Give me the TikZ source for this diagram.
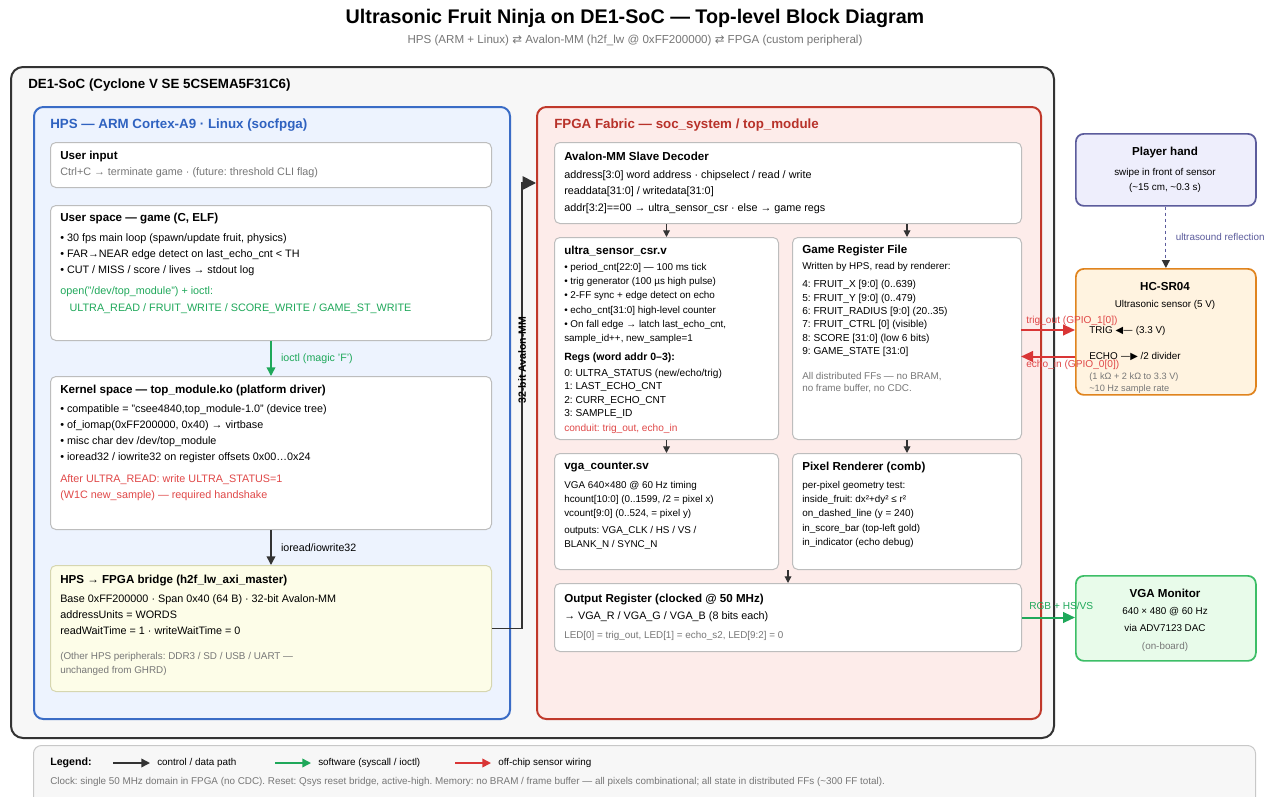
\documentclass[tikz,border=0pt]{standalone}
\usepackage{fontspec}
\setmainfont{Liberation Sans}
\newfontfamily\symfont{DejaVu Sans}
\usepackage{tikz}
\usetikzlibrary{arrows.meta,positioning,backgrounds}

\definecolor{boardline}{HTML}{333333}
\definecolor{boardfill}{HTML}{F7F7F7}
\definecolor{hpsline}{HTML}{3A6CC6}
\definecolor{hpsfill}{HTML}{EDF3FE}
\definecolor{hpstext}{HTML}{2F62C0}
\definecolor{fpgaline}{HTML}{C0392B}
\definecolor{fpgafill}{HTML}{FDECEA}
\definecolor{fpgatext}{HTML}{B8322A}
\definecolor{cardline}{HTML}{BDBDBD}
\definecolor{bridgefill}{HTML}{FDFDE8}
\definecolor{bridgeline}{HTML}{D6D6B0}
\definecolor{swgreen}{HTML}{1FA85A}
\definecolor{wirered}{HTML}{D93636}
\definecolor{notered}{HTML}{E04848}
\definecolor{notegray}{HTML}{777777}
\definecolor{ctrlgray}{HTML}{333333}
\definecolor{handfill}{HTML}{EEEEFC}
\definecolor{handline}{HTML}{5C5C9C}
\definecolor{sonarfill}{HTML}{FFF3E0}
\definecolor{sonarline}{HTML}{E0841E}
\definecolor{monfill}{HTML}{E8FBEA}
\definecolor{monline}{HTML}{3DBE67}
\definecolor{legline}{HTML}{C8C8C8}

\tikzset{
  sz/.style 2 args={anchor=north west, inner sep=0pt, minimum width=#1*0.75pt, minimum height=#2*0.75pt}
}
\tikzset{
  card/.style={draw=cardline, fill=white, rounded corners=4pt, line width=0.75pt}
}
\tikzset{
  grp/.style={rounded corners=7pt, line width=1.5pt}
}
\tikzset{
  offboard/.style={rounded corners=6pt, line width=1.3pt}
}
\tikzset{
  hdr/.style={anchor=west, inner sep=0pt, font=\fontsize{10}{12}\selectfont\bfseries},
  ttl/.style={anchor=west, inner sep=0pt, font=\fontsize{8.7}{10}\selectfont\bfseries},
  line/.style={anchor=west, inner sep=0pt, font=\fontsize{8.1}{10}\selectfont},
  sline/.style={anchor=west, inner sep=0pt, font=\fontsize{7.4}{9}\selectfont},
  body/.style={anchor=north west, inner sep=0pt, align=left, font=\fontsize{8.1}{#1}\selectfont},
  body/.default=12,
  reg/.style={anchor=north west, inner sep=0pt, align=left, font=\fontsize{7.6}{#1}\selectfont},
  reg/.default=10,
  small/.style={anchor=north west, inner sep=0pt, align=left, font=\fontsize{7.4}{#1}\selectfont},
  small/.default=10.6,
  lbl/.style={midway, anchor=west, inner sep=0pt, xshift=7pt, font=\fontsize{8}{10}\selectfont}
}
\tikzset{
  ctrl/.style={draw=ctrlgray, line width=1.1pt, -{Triangle[length=6.5pt, width=6.5pt]}},
  ctrlsm/.style={draw=ctrlgray, line width=0.9pt, -{Triangle[length=5pt, width=5pt]}},
  sw/.style={draw=swgreen, line width=1.1pt, -{Triangle[length=6.5pt, width=6.5pt]}},
  wire/.style={draw=wirered, line width=1.5pt, -{Triangle[length=9pt, width=8pt]}},
  rgbwire/.style={draw=swgreen, line width=1.5pt, -{Triangle[length=9pt, width=8pt]}},
  busline/.style={draw=ctrlgray, line width=1.3pt, -{Triangle[length=10pt, width=10pt]}},
  reflect/.style={draw=handline, line width=0.9pt, dash pattern=on 2.5pt off 2pt, -{Triangle[length=6pt, width=6pt, color=ctrlgray]}}
}

\begin{document}
\frenchspacing
\begin{tikzpicture}[x=0.75pt, y=-0.75pt]
\useasboundingbox (0,0) rectangle (1270,796);
\fill[white] (0,0) rectangle (1270,796);

% heading
\node[font=\fontsize{14.8}{17}\selectfont\bfseries] (title) at (635,18) {Ultrasonic Fruit Ninja on DE1-SoC — Top-level Block Diagram};
\node[font=\fontsize{8.7}{10}\selectfont, text=notegray] (subtitle) at (635,41) {HPS (ARM + Linux) {\symfont ⇄} Avalon-MM (h2f\_lw @ 0xFF200000) {\symfont ⇄} FPGA (custom peripheral)};

% board
\node[grp, draw=boardline, fill=boardfill, rounded corners=9pt, sz={1043}{671}] (board) at (10,66) {};
\node[hdr, text=black] (board-t) at (28,85) {DE1-SoC (Cyclone V SE 5CSEMA5F31C6)};

% HPS side
\node[grp, draw=hpsline, fill=hpsfill, sz={476}{612}] (hps) at (33,106) {};
\node[hdr, text=hpstext] (hps-t) at (50,125) {HPS — ARM Cortex-A9 · Linux (socfpga)};

\node[card, sz={441}{45}] (inp) at (50,142) {};
\node[ttl] (inp-t) at (60,156) {User input};
\node[line, text=notegray] (inp-b) at (60,173) {Ctrl+C → terminate game · (future: threshold CLI flag)};

\node[card, sz={441}{135}] (usr) at (50,205) {};
\node[ttl] (usr-t) at (60,219) {User space — game (C, ELF)};
\node[body] (usr-b) at (60,233.6) {• 30 fps main loop (spawn/update fruit, physics)\\ • FAR→NEAR edge detect on last\_echo\_cnt < TH\\ • CUT / MISS / score / lives → stdout log};
\node[body=12.8, text=swgreen] (usr-io) at (60,286.6) {open("/dev/top\_module") + ioctl:\\ \hspace*{7pt}ULTRA\_READ / FRUIT\_WRITE / SCORE\_WRITE / GAME\_ST\_WRITE};

\node[card, sz={441}{153}] (krn) at (50,376) {};
\node[ttl] (krn-t) at (60,390) {Kernel space — top\_module.ko (platform driver)};
\node[body] (krn-b) at (60,404.6) {• compatible = "csee4840,top\_module-1.0" (device tree)\\ • of\_iomap(0xFF200000, 0x40) → virtbase\\ • misc char dev /dev/top\_module\\ • ioread32 / iowrite32 on register offsets 0x00…0x24};
\node[body, text=notered] (krn-hs) at (60,474.6) {After ULTRA\_READ: write ULTRA\_STATUS=1\\ (W1C new\_sample) — required handshake};

\node[card, draw=bridgeline, fill=bridgefill, sz={441}{126}] (brg) at (50,565) {};
\node[ttl] (brg-t) at (60,581) {HPS → FPGA bridge (h2f\_lw\_axi\_master)};
\node[body] (brg-b) at (60,594.6) {Base 0xFF200000 · Span 0x40 (64 B) · 32-bit Avalon-MM\\ addressUnits = WORDS\\ readWaitTime = 1 · writeWaitTime = 0};
\node[small=10.8, text=notegray] (brg-n) at (60,651.8) {(Other HPS peripherals: DDR3 / SD / USB / UART —\\ unchanged from GHRD)};

% FPGA side
\node[grp, draw=fpgaline, fill=fpgafill, sz={504}{612}] (fpga) at (536,106) {};
\node[hdr, text=fpgatext] (fpga-t) at (554,125) {FPGA Fabric — soc\_system / top\_module};

\node[card, sz={467}{81}] (dec) at (554,142) {};
\node[ttl] (dec-t) at (564,156) {Avalon-MM Slave Decoder};
\node[body] (dec-b) at (564,170.6) {address[3:0] word address · chipselect / read / write\\ readdata[31:0] / writedata[31:0]};
\node[line] (dec-m) at (564,209) {addr[3:2]==00 → ultra\_sensor\_csr · else → game regs};

\node[card, sz={224}{202}] (usc) at (554,237) {};
\node[ttl] (usc-t) at (564,251) {ultra\_sensor\_csr.v};
\node[small] (usc-b) at (564,263.2) {• period\_cnt[22:0] — 100 ms tick\\ • trig generator (100 µs high pulse)\\ • 2-FF sync + edge detect on echo\\ • echo\_cnt[31:0] high-level counter\\ • On fall edge → latch last\_echo\_cnt,\\ sample\_id++, new\_sample=1};
\node[ttl, font=\fontsize{7.9}{9}\selectfont\bfseries] (usc-r) at (564,358) {Regs (word addr 0–3):};
\node[reg] (usc-rb) at (564,369) {0: ULTRA\_STATUS (new/echo/trig)\\ 1: LAST\_ECHO\_CNT\\ 2: CURR\_ECHO\_CNT\\ 3: SAMPLE\_ID};
\node[line, font=\fontsize{7.6}{9}\selectfont, text=notered] (usc-c) at (564,429) {conduit: trig\_out, echo\_in};

\node[card, sz={229}{202}] (grf) at (792,237) {};
\node[ttl] (grf-t) at (802,251) {Game Register File};
\node[sline] (grf-w) at (802,267) {Written by HPS, read by renderer:};
\node[reg] (grf-b) at (802,280.2) {4: FRUIT\_X [9:0] (0..639)\\ 5: FRUIT\_Y [9:0] (0..479)\\ 6: FRUIT\_RADIUS [9:0] (20..35)\\ 7: FRUIT\_CTRL [0] (visible)\\ 8: SCORE [31:0] (low 6 bits)\\ 9: GAME\_STATE [31:0]};
\node[small=9.5, text=notegray] (grf-n) at (802,371.8) {All distributed FFs — no BRAM,\\ no frame buffer, no CDC.};

\node[card, sz={224}{116}] (vga) at (554,453) {};
\node[ttl] (vga-t) at (564,467) {vga\_counter.sv};
\node[small] (vga-b) at (564,481.2) {VGA 640×480 @ 60 Hz timing\\ hcount[10:0] (0..1599, /2 = pixel x)\\ vcount[9:0] (0..524, = pixel y)};
\node[small] (vga-o) at (564,526.2) {outputs: VGA\_CLK / HS / VS /\\ BLANK\_N / SYNC\_N};

\node[card, sz={229}{116}] (pix) at (792,453) {};
\node[ttl] (pix-t) at (802,467) {Pixel Renderer (comb)};
\node[small] (pix-b) at (802,481.2) {per-pixel geometry test:\\ inside\_fruit: dx²+dy² ≤ r²\\ on\_dashed\_line (y = 240)\\ in\_score\_bar (top-left gold)\\ in\_indicator (echo debug)};

\node[card, sz={467}{68}] (out) at (554,583) {};
\node[ttl] (out-t) at (564,600) {Output Register (clocked @ 50 MHz)};
\node[line] (out-b) at (564,617) {→ VGA\_R / VGA\_G / VGA\_B (8 bits each)};
\node[sline, text=notegray] (out-n) at (564,636) {LED[0] = trig\_out, LED[1] = echo\_s2, LED[9:2] = 0};

% off-board parts
\node[offboard, draw=handline, fill=handfill, sz={180}{72}] (hand) at (1075,133) {};
\node[ttl, anchor=center] (hand-t) at (1165,152) {Player hand};
\node[small=11.2, anchor=north, align=center] (hand-b) at (1165,167.8) {swipe in front of sensor\\ (\textasciitilde15 cm, \textasciitilde0.3 s)};

\node[offboard, draw=sonarline, fill=sonarfill, sz={180}{126}] (hc) at (1075,268) {};
\node[ttl, anchor=center] (hc-t) at (1165,287) {HC-SR04};
\node[sline, anchor=center] (hc-s) at (1165,305) {Ultrasonic sensor (5 V)};
\node[sline] (hc-trig) at (1089,330.5) {TRIG {\symfont ◀—} (3.3 V)};
\node[sline] (hc-echo) at (1089,356.5) {ECHO {\symfont —▶} /2 divider};
\node[small=9.2, font=\fontsize{6.9}{9.2}\selectfont, text=notegray] (hc-n) at (1089,372.5) {(1 kΩ + 2 kΩ to 3.3 V)\\ \textasciitilde10 Hz sample rate};

\node[offboard, draw=monline, fill=monfill, sz={180}{85}] (mon) at (1075,575) {};
\node[ttl, anchor=center] (mon-t) at (1165,593) {VGA Monitor};
\node[sline, anchor=center] (mon-a) at (1165,612) {640 × 480 @ 60 Hz};
\node[sline, anchor=center] (mon-b) at (1165,628) {via ADV7123 DAC};
\node[sline, anchor=center, text=notegray] (mon-n) at (1165,647) {(on-board)};

% connectors
\draw[sw] (usr.south) -- (krn.north) node[lbl, text=swgreen] (ioctl-l) {ioctl (magic 'F')};
\draw[ctrl] (krn.south) -- (brg.north) node[lbl] (io-l) {ioread/iowrite32};

\coordinate (bus) at (522,183);
\draw[busline] (brg.east) -| (bus) -- (fpga.west |- dec.west);
\node[rotate=90, font=\fontsize{7.9}{9}\selectfont\bfseries] (bus-l) at (522,360) {32-bit Avalon-MM};

\draw[ctrlsm] (dec.south -| usc.north) -- (usc.north);
\draw[ctrlsm] (dec.south -| grf.north) -- (grf.north);
\draw[ctrlsm] (usc.south) -- (vga.north);
\draw[ctrlsm] (grf.south) -- (pix.north);
\draw[ctrlsm] (out.north |- vga.south) -- (out.north);

\draw[reflect] (hand.south) -- (hc.north) node[lbl, font=\fontsize{7.4}{9}\selectfont, text=handline] (refl-l) {ultrasound reflection};

\coordinate (trigpin) at (1021,330);
\coordinate (echopin) at (1021,356.5);
\draw[wire] (trigpin) -- (hc.west |- trigpin);
\draw[wire] (hc.west |- echopin) -- (echopin);
\node[sline, font=\fontsize{7.6}{9}\selectfont, text=notered] (trig-l) at (1026,321) {trig\_out (GPIO\_1[0])};
\node[sline, font=\fontsize{7.6}{9}\selectfont, text=notered] (echo-l) at (1026,365) {echo\_in (GPIO\_0[0])};

\draw[rgbwire] (out.east) -- (mon.west |- out.east);
\node[sline, font=\fontsize{7.6}{9}\selectfont, text=swgreen] (rgb-l) at (1029,606) {RGB + HS/VS};

% legend
\node[card, draw=legline, fill=boardfill, rounded corners=6pt, sz={1222}{70}] (leg) at (33,745) {};
\node[ttl, font=\fontsize{8}{9}\selectfont\bfseries] (leg-t) at (50,763) {Legend:};
\coordinate (k1) at (113,763); \coordinate (k2) at (150,763);
\coordinate (g1) at (275,763); \coordinate (g2) at (311,763);
\coordinate (r1) at (455,763); \coordinate (r2) at (491,763);
\draw[ctrl] (k1) -- (k2);
\draw[sw] (g1) -- (g2);
\draw[wire, line width=1.1pt, -{Triangle[length=6.5pt, width=6.5pt]}] (r1) -- (r2);
\node[sline] (k-l) at (157,763) {control / data path};
\node[sline] (g-l) at (318,763) {software (syscall / ioctl)};
\node[sline] (r-l) at (498,763) {off-chip sensor wiring};
\node[sline, text=notegray] (leg-n) at (50,782) {Clock: single 50 MHz domain in FPGA (no CDC). Reset: Qsys reset bridge, active-high. Memory: no BRAM / frame buffer — all pixels combinational; all state in distributed FFs (\textasciitilde300 FF total).};
\end{tikzpicture}
\end{document}
